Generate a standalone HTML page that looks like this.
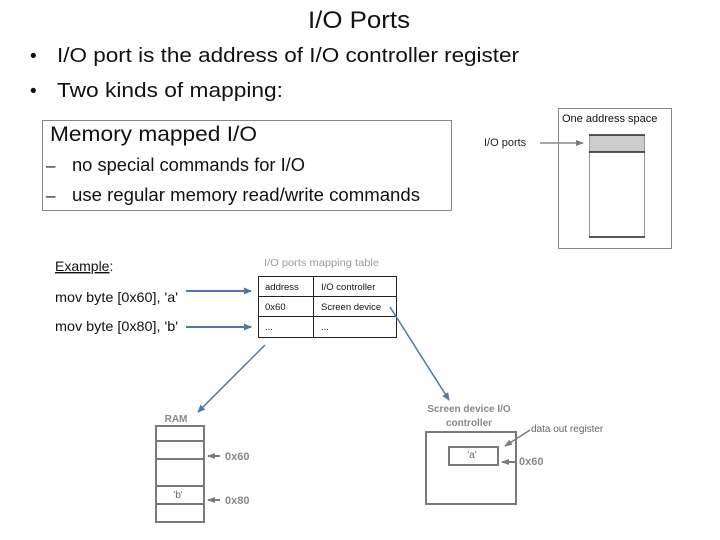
<!DOCTYPE html>
<html><head><meta charset="utf-8"><style>
html,body{margin:0;padding:0;background:#fff;}
svg{display:block;}
</style></head><body>
<svg width="720" height="540" viewBox="0 0 720 540" xmlns="http://www.w3.org/2000/svg" font-family="Liberation Sans, sans-serif">
<defs>
<marker id="ab" markerWidth="8" markerHeight="8" refX="7" refY="4" orient="auto" markerUnits="userSpaceOnUse"><path d="M0,0.5 L8,4 L0,7.5z" fill="#4f77a6"/></marker>
<marker id="ag" markerWidth="8" markerHeight="8" refX="7" refY="4" orient="auto" markerUnits="userSpaceOnUse"><path d="M0,1 L8,4 L0,7z" fill="#7a7a7a"/></marker>
</defs>
<text x="359" y="28" font-size="24" text-anchor="middle" fill="#111" textLength="102" lengthAdjust="spacingAndGlyphs">I/O Ports</text>
<text x="30" y="62" font-size="19" fill="#111">•</text>
<text x="57" y="62" font-size="20" fill="#111" textLength="462" lengthAdjust="spacingAndGlyphs">I/O port is the address of I/O controller register</text>
<text x="30" y="97" font-size="19" fill="#111">•</text>
<text x="57" y="97" font-size="20" fill="#111" textLength="226" lengthAdjust="spacingAndGlyphs">Two kinds of mapping:</text>

<rect x="42.5" y="120.5" width="409" height="90" fill="none" stroke="#888" stroke-width="1"/>
<text x="50" y="141" font-size="21" fill="#111" textLength="207" lengthAdjust="spacingAndGlyphs">Memory mapped I/O</text>
<text x="46" y="171" font-size="17" fill="#111">–</text>
<text x="72" y="171" font-size="18" fill="#111" textLength="233" lengthAdjust="spacingAndGlyphs">no special commands for I/O</text>
<text x="46" y="201" font-size="17" fill="#111">–</text>
<text x="72" y="201" font-size="18" fill="#111" textLength="348" lengthAdjust="spacingAndGlyphs">use regular memory read/write commands</text>

<rect x="558.5" y="108.5" width="113" height="140" fill="none" stroke="#888"/>
<text x="562" y="122" font-size="11" fill="#111">One address space</text>
<rect x="589.5" y="135" width="55" height="17" fill="#ccc"/>
<line x1="589.5" y1="135" x2="589.5" y2="237" stroke="#999"/>
<line x1="644.5" y1="135" x2="644.5" y2="237" stroke="#999"/>
<line x1="589" y1="135" x2="645" y2="135" stroke="#222" stroke-width="1.5"/>
<line x1="589" y1="152" x2="645" y2="152" stroke="#222" stroke-width="1.5"/>
<line x1="589" y1="237" x2="645" y2="237" stroke="#222" stroke-width="1.5"/>
<text x="484" y="146" font-size="11" fill="#222">I/O ports</text>
<line x1="540" y1="143" x2="583" y2="143" stroke="#888" stroke-width="1.5" marker-end="url(#ag)"/>

<text x="55" y="271" font-size="14" fill="#111"><tspan text-decoration="underline">Example</tspan>:</text>
<text x="55" y="302" font-size="14" fill="#111" textLength="123" lengthAdjust="spacingAndGlyphs">mov byte [0x60], 'a'</text>
<text x="55" y="331" font-size="14" fill="#111" textLength="123" lengthAdjust="spacingAndGlyphs">mov byte [0x80], 'b'</text>
<line x1="186" y1="291" x2="251" y2="291" stroke="#4f77a6" stroke-width="2" marker-end="url(#ab)"/>
<line x1="186" y1="327" x2="251" y2="327" stroke="#4f77a6" stroke-width="2" marker-end="url(#ab)"/>

<text x="264" y="266" font-size="10.5" fill="#999" textLength="115" lengthAdjust="spacingAndGlyphs">I/O ports mapping table</text>
<rect x="258.5" y="276.5" width="138" height="61" fill="none" stroke="#222"/>
<line x1="258" y1="296.5" x2="397" y2="296.5" stroke="#222"/>
<line x1="258" y1="316.5" x2="397" y2="316.5" stroke="#222"/>
<line x1="313.5" y1="276" x2="313.5" y2="338" stroke="#222"/>
<text x="265" y="290" font-size="9.5" fill="#111">address</text>
<text x="321" y="290" font-size="9.5" fill="#111">I/O controller</text>
<text x="265" y="310" font-size="9.5" fill="#111">0x60</text>
<text x="321" y="310" font-size="9.5" fill="#111">Screen device</text>
<text x="265" y="330" font-size="9.5" fill="#111">...</text>
<text x="321" y="330" font-size="9.5" fill="#111">...</text>

<line x1="265" y1="345" x2="198" y2="412" stroke="#4f77a6" stroke-width="1.5" marker-end="url(#ab)"/>
<line x1="390" y1="307" x2="449" y2="400" stroke="#4f77a6" stroke-width="1.5" marker-end="url(#ab)"/>

<text x="176" y="422" font-size="10" font-weight="bold" fill="#888" text-anchor="middle">RAM</text>
<rect x="156" y="426" width="48" height="96" fill="none" stroke="#7a7a7a" stroke-width="2"/>
<line x1="156" y1="441" x2="204" y2="441" stroke="#7a7a7a" stroke-width="2"/>
<line x1="156" y1="459" x2="204" y2="459" stroke="#7a7a7a" stroke-width="2"/>
<line x1="156" y1="486" x2="204" y2="486" stroke="#7a7a7a" stroke-width="2"/>
<line x1="156" y1="504" x2="204" y2="504" stroke="#7a7a7a" stroke-width="2"/>
<text x="178" y="498" font-size="10" fill="#666" text-anchor="middle">'b'</text>
<line x1="220" y1="456" x2="208" y2="456" stroke="#7a7a7a" stroke-width="2" marker-end="url(#ag)"/>
<text x="225" y="460" font-size="11" font-weight="bold" fill="#888">0x60</text>
<line x1="220" y1="500" x2="208" y2="500" stroke="#7a7a7a" stroke-width="2" marker-end="url(#ag)"/>
<text x="225" y="504" font-size="11" font-weight="bold" fill="#888">0x80</text>

<text x="469" y="412" font-size="10" font-weight="bold" fill="#888" text-anchor="middle">Screen device I/O</text>
<text x="469" y="426" font-size="10" font-weight="bold" fill="#888" text-anchor="middle">controller</text>
<rect x="426" y="432" width="90" height="72" fill="none" stroke="#7a7a7a" stroke-width="2"/>
<rect x="449" y="447" width="49" height="18" fill="none" stroke="#7a7a7a" stroke-width="2"/>
<text x="472" y="458" font-size="10" fill="#666" text-anchor="middle">'a'</text>
<line x1="530" y1="430" x2="505" y2="446" stroke="#7a7a7a" stroke-width="1.5" marker-end="url(#ag)"/>
<text x="531" y="432" font-size="10" fill="#666">data  out register</text>
<line x1="515" y1="462" x2="502" y2="462" stroke="#7a7a7a" stroke-width="2" marker-end="url(#ag)"/>
<text x="519" y="465" font-size="11" font-weight="bold" fill="#888">0x60</text>
</svg>
</body></html>
